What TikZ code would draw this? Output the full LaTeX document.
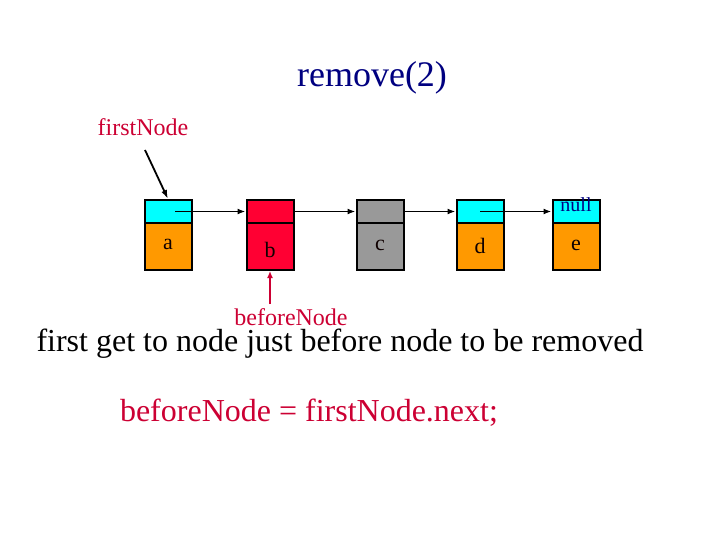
\documentclass[tikz,border=0pt]{standalone}
\usepackage{fontspec}
\setmainfont{Liberation Serif}
\usetikzlibrary{arrows.meta}
\definecolor{cyanc}{RGB}{0,255,255}
\definecolor{orangec}{RGB}{255,153,0}
\definecolor{redc}{RGB}{255,0,51}
\definecolor{grayc}{RGB}{153,153,153}
\definecolor{crim}{RGB}{204,0,51}
\definecolor{navyc}{RGB}{0,0,128}
\tikzset{
  cell/.style={draw=black, line width=2pt, minimum width=47pt, inner sep=0pt, anchor=north},
  topcell/.style={cell, minimum height=23pt},
  botcell/.style={cell, minimum height=47pt},
  lbl/.style={font=\fontsize{22}{24}\selectfont, text=black!70!red!20!black},
  link/.style={line width=1.6pt, -{Latex[length=8pt,width=6pt]}},
}
\begin{document}
\begin{tikzpicture}[x=1pt,y=-1pt]
\useasboundingbox (0,0) rectangle (720,540);
\node[font=\fontsize{36}{38}\selectfont, text=navyc] (title) at (372,78) {remove(2)};
\node[font=\fontsize{24}{26}\selectfont, text=crim] (fn) at (143,127) {firstNode};
% nodes
\foreach \n/\x/\ct/\cb in {a/168/cyanc/orangec, b/270/redc/redc, c/380/grayc/grayc, d/480/cyanc/orangec, e/576/cyanc/orangec}{
  \node[topcell, fill=\ct] (\n t) at (\x,199) {};
  \node[botcell, fill=\cb] (\n b) at (\x,222) {};
}
\node[lbl] (la) at ([yshift=2pt]ab.center) {a};
\node[lbl] (lb) at ([yshift=-3pt]bb.center) {b};
\node[lbl] (lc) at ([yshift=1pt]cb.center) {c};
\node[lbl] (ld) at ([yshift=1pt]db.center) {d};
\node[lbl] (le) at ([yshift=1pt]eb.center) {e};
\node[font=\fontsize{20}{22}\selectfont, text=navyc, inner sep=0pt] (null) at ([yshift=7pt]et.center) {null};
% links
\coordinate (ap) at ([xshift=7pt]at.center);
\coordinate (dp) at ([xshift=0pt]dt.center);
\draw[link] (ap) -- (at.center -| bt.west);
\draw[link] (bt.east) -- (ct.west);
\draw[link] (ct.east) -- (dt.west);
\draw[link] (dp) -- (dt.center -| et.west);
% firstNode arrow
\coordinate (fs) at (145,150);
\draw[line width=1.8pt, -{Latex[length=9pt,width=6pt]}] (fs) -- (at.north);
% beforeNode
\node[font=\fontsize{24}{26}\selectfont, text=crim] (bn) at (291,317) {beforeNode};
\coordinate (bs) at (270,304);
\draw[crim, line width=1.4pt, -{Latex[length=7pt,width=6pt]}] (bs) -- (bb.south);
\node[font=\fontsize{32}{34}\selectfont] (desc) at (340,344) {first get to node just before node to be removed};
\node[font=\fontsize{32}{34}\selectfont, text=crim] (code) at (309,413) {beforeNode = firstNode.next;};
\end{tikzpicture}
\end{document}
